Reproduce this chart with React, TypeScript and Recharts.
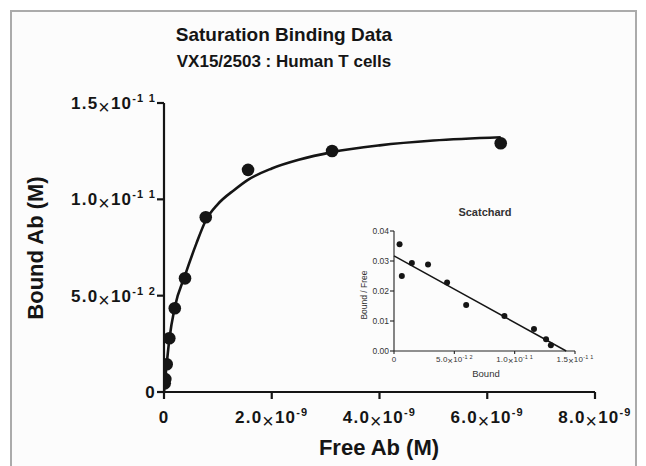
import React from 'react';
import { ComposedChart, Scatter, Line, XAxis, YAxis } from 'recharts';

const FONT = '"Liberation Sans", Arial, Helvetica, sans-serif';
const INK = '#151515';

// saturation binding data (free Ab in M, bound Ab in M)
const freeAb = [0.013e-9, 0.025e-9, 0.05e-9, 0.098e-9, 0.2e-9, 0.39e-9, 0.775e-9, 1.56e-9, 3.12e-9, 6.25e-9];
const boundAb = [0.45e-12, 0.67e-12, 1.44e-12, 2.79e-12, 4.35e-12, 5.9e-12, 9.07e-12, 11.53e-12, 12.51e-12, 12.91e-12];

// fitted one-site curve
const fitFree = [0, 0.013e-9, 0.025e-9, 0.05e-9, 0.1e-9, 0.2e-9, 0.39e-9, 0.6e-9, 0.775e-9, 1.0e-9, 1.31e-9, 1.55e-9, 2.0e-9, 2.5e-9, 3.12e-9, 4.0e-9, 5.0e-9, 6.25e-9];
const fitBound = [0, 0.42e-12, 0.75e-12, 1.45e-12, 2.75e-12, 4.4e-12, 6.05e-12, 7.7e-12, 8.9e-12, 9.75e-12, 10.5e-12, 11.0e-12, 11.6e-12, 12.05e-12, 12.45e-12, 12.8e-12, 13.05e-12, 13.22e-12];

// main axes ticks
const xTicks = [0, 2e-9, 4e-9, 6e-9, 8e-9];
const xTickMant = ['0', '2.0', '4.0', '6.0', '8.0'];
const xTickExp = ['', '-9', '-9', '-9', '-9'];
const yTicks = [0, 5e-12, 1e-11, 1.5e-11];
const yTickMant = ['0', '5.0', '1.0', '1.5'];
const yTickExp = ['', '-1 2', '-1 1', '-1 1'];

// scatchard inset: bound vs bound/free
const scBound = [0.46e-12, 0.65e-12, 1.48e-12, 2.82e-12, 4.4e-12, 5.98e-12, 9.15e-12, 11.6e-12, 12.6e-12, 13.0e-12];
const scRatio = [0.0356, 0.025, 0.0293, 0.0288, 0.0228, 0.0153, 0.0117, 0.0073, 0.0039, 0.0019];
const scLineBound = [0, 1.427e-11];
const scLineRatio = [0.0317, 0];

const scXTicks = [0, 5e-12, 1e-11, 1.5e-11];
const scXMant = ['0', '5.0', '1.0', '1.5'];
const scXExp = ['', '-1 2', '-1 1', '-1 1'];
const scYTicks = [0, 0.01, 0.02, 0.03, 0.04];
const scYLabels = ['0.00', '0.01', '0.02', '0.03', '0.04'];

const points = freeAb.map((x, i) => ({ x, y: boundAb[i] }));
const fit = fitFree.map((x, i) => ({ x, y: fitBound[i] }));
const scPoints = scBound.map((x, i) => ({ x, y: scRatio[i] }));
const scLine = scLineBound.map((x, i) => ({ x, y: scLineRatio[i] }));

// "1.5 x 10^-11" style label
const SciLabel = ({ x, y, anchor, mant, exp, size, expSize, spacing, bold, fill }: any) => (
  <text
    x={x}
    y={y}
    textAnchor={anchor}
    fontFamily={FONT}
    fontWeight={bold ? 'bold' : 'normal'}
    fill={fill}
    letterSpacing={spacing}
  >
    <tspan fontSize={size}>{mant}</tspan>
    {exp && (
      <>
        <tspan fontSize={size * 1.15} fontWeight="normal" dy={size * 0.3}>×</tspan>
        <tspan fontSize={size} dy={-size * 0.3}>10</tspan>
        <tspan fontSize={expSize} dy={-size * 0.42}>{exp}</tspan>
      </>
    )}
  </text>
);

const MainXTick = ({ x, y, payload }: any) => {
  const i = xTicks.indexOf(payload.value);
  return (
    <SciLabel x={x} y={y + 22} anchor="middle" mant={xTickMant[i]} exp={xTickExp[i]}
      size={17} expSize={11} spacing={1.2} bold fill={INK} />
  );
};

const MainYTick = ({ x, y, payload }: any) => {
  const i = yTicks.indexOf(payload.value);
  return (
    <SciLabel x={x + 1} y={y + 6} anchor="end" mant={yTickMant[i]} exp={yTickExp[i]}
      size={17} expSize={11} spacing={1.2} bold fill={INK} />
  );
};

const ScXTick = ({ x, y, payload }: any) => {
  const i = scXTicks.indexOf(payload.value);
  return (
    <SciLabel x={x} y={y + 7} anchor="middle" mant={scXMant[i]} exp={scXExp[i]}
      size={8} expSize={5.5} spacing={0.2} fill="#333" />
  );
};

const ScYTick = ({ x, y, payload }: any) => {
  const i = scYTicks.indexOf(payload.value);
  return (
    <text x={x} y={y} dy="0.35em" textAnchor="end" fontFamily={FONT} fontSize={8.5} fill="#333">
      {scYLabels[i]}
    </text>
  );
};

const Dot = (r: number) => (props: any) => <circle cx={props.cx} cy={props.cy} r={r} fill={INK} />;

export default function App() {
  return (
    <div style={{ position: 'absolute', left: 0, top: 0, width: 646, height: 466, overflow: 'hidden', background: '#fff' }}>
      <div style={{
        position: 'absolute', left: 10, top: 10, width: 627, height: 470,
        border: '2px solid #ababab', background: '#fcfcfc', boxSizing: 'border-box'
      }} />

      <div style={{ position: 'absolute', left: 0, top: 0 }}>
        <ComposedChart width={646} height={466} margin={{ top: 103, right: 51, left: 0, bottom: 0 }}>
          <XAxis
            type="number"
            dataKey="x"
            domain={[0, 8e-9]}
            ticks={xTicks}
            height={74}
            tickSize={7}
            tickMargin={2}
            tick={<MainXTick />}
            axisLine={{ stroke: INK, strokeWidth: 2.2 }}
            tickLine={{ stroke: INK, strokeWidth: 2.2 }}
            allowDataOverflow
          />
          <YAxis
            type="number"
            dataKey="y"
            domain={[0, 1.5e-11]}
            ticks={yTicks}
            width={164}
            tickSize={7}
            tickMargin={2}
            tick={<MainYTick />}
            axisLine={{ stroke: INK, strokeWidth: 2.2 }}
            tickLine={{ stroke: INK, strokeWidth: 2.2 }}
            allowDataOverflow
          />
          <Line
            data={fit}
            dataKey="y"
            type="monotone"
            stroke={INK}
            strokeWidth={2.6}
            dot={false}
            activeDot={false}
            isAnimationActive={false}
          />
          <Scatter data={points} dataKey="y" shape={Dot(6.3)} isAnimationActive={false} />
        </ComposedChart>
      </div>

      <div style={{ position: 'absolute', left: 330, top: 200 }}>
        <ComposedChart width={270} height={190} margin={{ top: 31, right: 25, left: 0, bottom: 0 }}>
          <XAxis
            type="number"
            dataKey="x"
            domain={[0, 1.5e-11]}
            ticks={scXTicks}
            height={39}
            tickSize={3}
            tickMargin={1}
            tick={<ScXTick />}
            axisLine={{ stroke: '#222', strokeWidth: 1.1 }}
            tickLine={{ stroke: '#222', strokeWidth: 1.1 }}
          />
          <YAxis
            type="number"
            dataKey="y"
            domain={[0, 0.04]}
            ticks={scYTicks}
            width={64}
            tickSize={4}
            tickMargin={1}
            tick={<ScYTick />}
            axisLine={{ stroke: '#222', strokeWidth: 1.1 }}
            tickLine={{ stroke: '#222', strokeWidth: 1.1 }}
          />
          <Line
            data={scLine}
            dataKey="y"
            type="linear"
            stroke={INK}
            strokeWidth={1.5}
            dot={false}
            activeDot={false}
            isAnimationActive={false}
          />
          <Scatter data={scPoints} dataKey="y" shape={Dot(3)} isAnimationActive={false} />
        </ComposedChart>
      </div>

      <svg width={646} height={466} style={{ position: 'absolute', left: 0, top: 0, pointerEvents: 'none' }}>
        <g fontFamily={FONT} fill={INK} fontWeight="bold" textAnchor="middle">
          <text x={284} y={41} fontSize={19}>Saturation Binding Data</text>
          <text x={284} y={67} fontSize={17}>VX15/2503 : Human T cells</text>
          <text x={379} y={455} fontSize={22}>Free Ab (M)</text>
          <text x={43} y={248} fontSize={22} transform="rotate(-90 43 248)">Bound Ab (M)</text>
          <text x={485} y={216} fontSize={11} fill="#333">Scatchard</text>
        </g>
        <g fontFamily={FONT} fill="#333" textAnchor="middle">
          <text x={367} y={295} fontSize={8.5} transform="rotate(-90 367 295)">Bound / Free</text>
          <text x={486} y={377} fontSize={9.5}>Bound</text>
        </g>
      </svg>
    </div>
  );
}
